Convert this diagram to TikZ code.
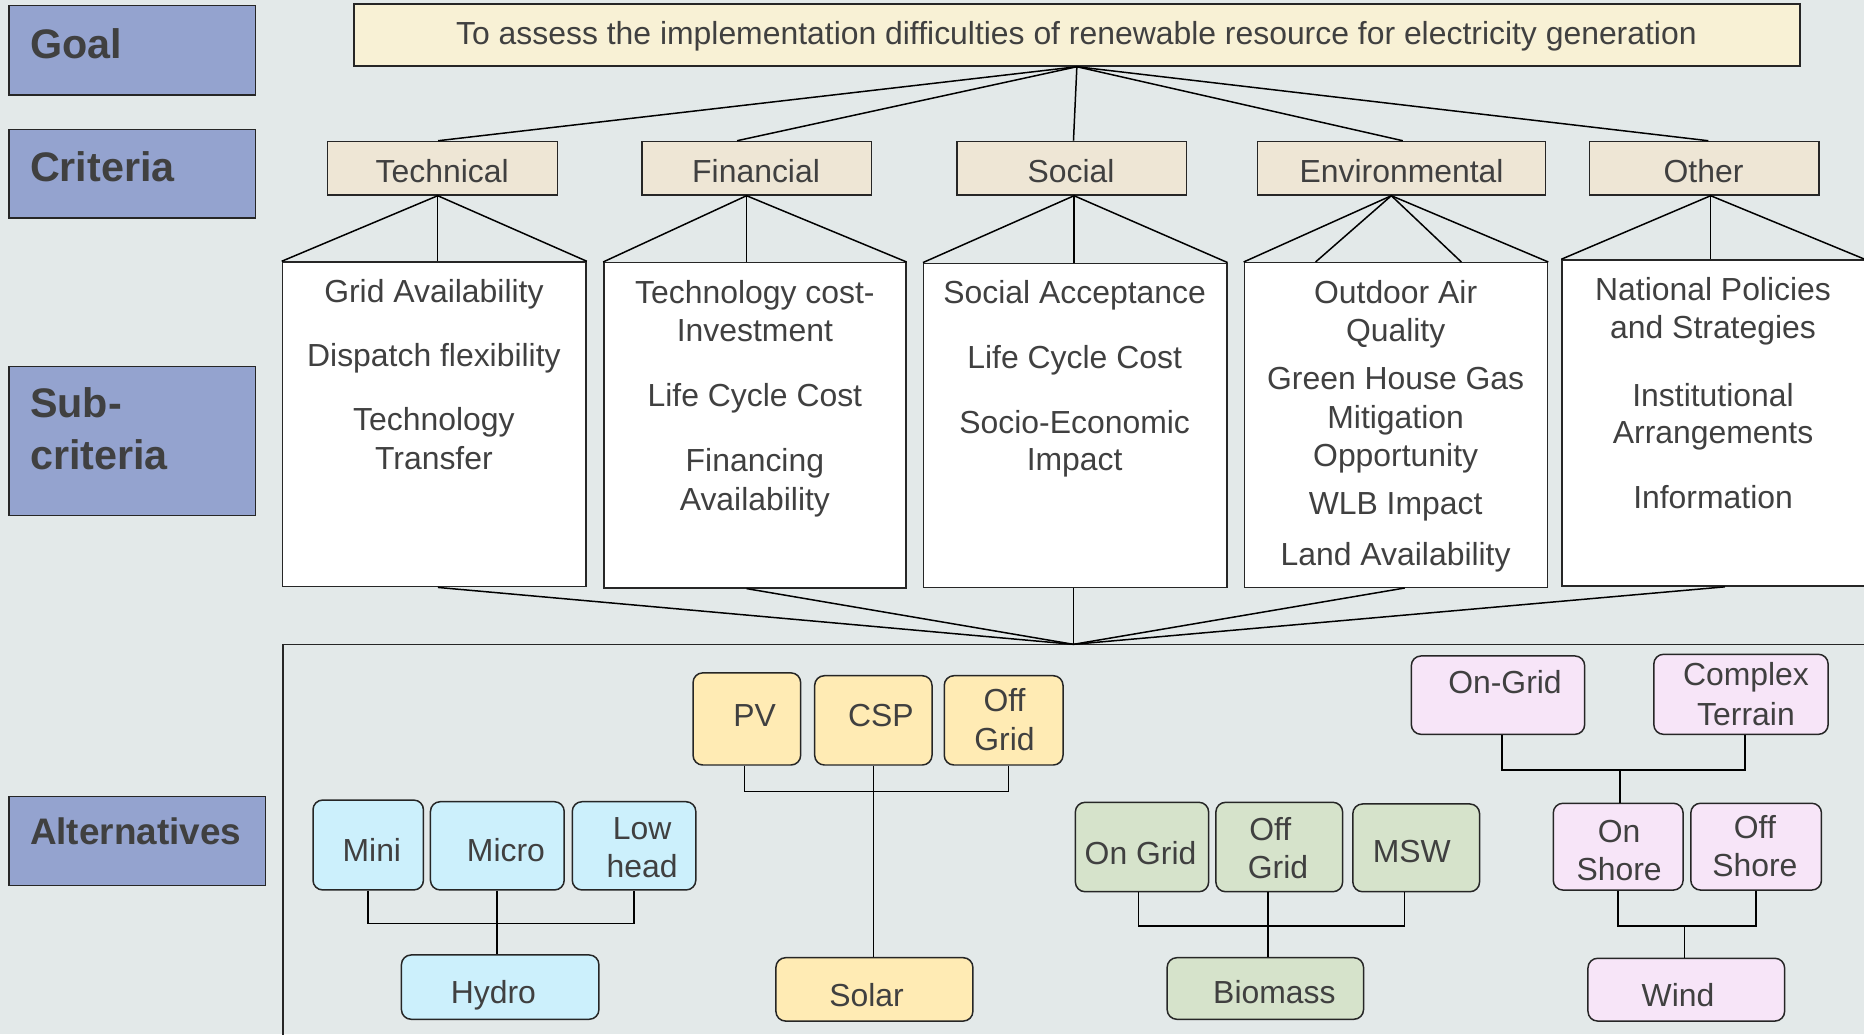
\documentclass[tikz,border=0pt]{standalone}
\usepackage{fontspec}
\setmainfont{Liberation Sans}
\usetikzlibrary{calc,fit}
\definecolor{bg}{HTML}{E3E9E9}
\definecolor{lab}{HTML}{94A3CF}
\definecolor{goalc}{HTML}{F8F1D5}
\definecolor{crit}{HTML}{EEE6D5}
\definecolor{txtc}{HTML}{404040}
\definecolor{hyd}{HTML}{CCF0FC}
\definecolor{sol}{HTML}{FFEBB4}
\definecolor{bio}{HTML}{D6E3CB}
\definecolor{win}{HTML}{F7E5F8}
\newcounter{tn}
\newcommand\tx[3]{\stepcounter{tn}\node[tt] (tx\arabic{tn}) at (#1,#2) {#3};}
\newcommand\lx[3]{\stepcounter{tn}\node[lt] (tx\arabic{tn}) at (#1,#2) {#3};}
\begin{document}
\begin{tikzpicture}[x=0.023776cm,y=-0.023776cm,
 box/.style={draw=black!85, line width=0.85pt, inner sep=0pt},
 labbox/.style={box, fill=lab},
 critbox/.style={box, fill=crit},
 subbox/.style={box, fill=white},
 alt/.style={box, rounded corners=5.5pt},
 tt/.style={anchor=base, inner sep=0pt, text=txtc, font=\fontsize{18.15}{21}\selectfont},
 lt/.style={anchor=base west, inner sep=0pt, text=txtc, font=\fontsize{23.5}{28}\selectfont\bfseries},
 con/.style={line width=0.85pt, black}]
\useasboundingbox (0,0) rectangle (1568,870);
\clip (0,0) rectangle (1568,870);
\fill[bg] (0,0) rectangle (1568,870);

% level labels
\node[labbox, fit={(7.5,4.5)(215,80)}] (lGoal) {};
\lx{25}{49}{Goal}
\node[labbox, fit={(7.5,109)(215,183.5)}] (lCrit) {};
\lx{25}{152.8}{Criteria}
\node[labbox, fit={(7.5,308.5)(215,433.5)}] (lSub) {};
\lx{25}{351.5}{Sub-}
\lx{25}{395}{criteria}
\node[labbox, fit={(7.5,670)(223.5,745)}] (lAlt) {};
\stepcounter{tn}\node[lt, font=\fontsize{21}{25}\selectfont\bfseries] (tx\arabic{tn}) at (25,710) {Alternatives};

% goal
\node[box, fill=goalc, fit={(297.7,3.5)(1514,55.5)}] (goal) {};
\tx{905.5}{37.5}{To assess the implementation difficulties of renewable resource for electricity generation}

% criteria
\node[critbox, fit={(275.4,119)(469,164)}] (cT) {};
\node[critbox, fit={(540,119)(733,164)}] (cF) {};
\node[critbox, fit={(805,119)(998,164)}] (cS) {};
\node[critbox, fit={(1058,119)(1300,164)}] (cE) {};
\node[critbox, fit={(1337,119)(1530,164)}] (cO) {};
\tx{372}{153.3}{Technical}
\tx{636}{153.3}{Financial}
\tx{901}{153.3}{Social}
\tx{1179}{153.3}{Environmental}
\tx{1433}{153.3}{Other}

\draw[con] (goal.south) -- ($(cT.north)+(-3.7,0)$);
\draw[con] (goal.south) -- ($(cF.north)+(-16.5,0)$);
\draw[con] (goal.south) -- ($(cS.north)+(1.5,0)$);
\draw[con] (goal.south) -- ($(cE.north)+(1,0)$);
\draw[con] (goal.south) -- ($(cO.north)+(3.5,0)$);

% sub-criteria boxes
\node[subbox, fit={(237.6,220.4)(493,493.5)}] (sT) {};
\node[subbox, fit={(508,221)(762,494.5)}] (sF) {};
\node[subbox, fit={(777,221.5)(1032,494)}] (sS) {};
\node[subbox, fit={(1046.8,221)(1301.8,494)}] (sE) {};
\node[subbox, fit={(1314,218.7)(1580,493)}] (sO) {};

\coordinate (aT) at ($(cT.south)+(-4,0)$);
\coordinate (aF) at ($(cF.south)+(-8.5,0)$);
\coordinate (aS) at ($(cS.south)+(2,0)$);
\coordinate (aE) at ($(cE.south)+(-8.6,0)$);
\coordinate (aO) at ($(cO.south)+(5.5,0)$);

\draw[con] (sT.north west) -- (aT) -- (sT.north east);
\draw[con] (aT) -- (aT |- sT.north);
\draw[con] (sF.north west) -- (aF) -- (sF.north east);
\draw[con] (aF) -- (aF |- sF.north);
\draw[con] (sS.north west) -- (aS) -- (sS.north east);
\draw[con] (aS) -- (aS |- sS.north);
\draw[con] (sE.north west) -- (aE) -- (sE.north east);
\draw[con] (aE) -- ($(sE.north west)!0.236!(sE.north east)$);
\draw[con] (aE) -- ($(sE.north west)!0.7145!(sE.north east)$);
\draw[con] (sO.north west) -- (aO) -- ($(sO.north west)!0.955!(sO.north east)$);
\draw[con] (aO) -- (aO |- sO.north);

% sub-criteria texts
\tx{365}{254.6}{Grid Availability}
\tx{365}{308.4}{Dispatch flexibility}
\tx{365}{362.3}{Technology}
\tx{365}{394.8}{Transfer}

\tx{635}{255.2}{Technology cost-}
\tx{635}{287.4}{Investment}
\tx{635}{342}{Life Cycle Cost}
\tx{635}{397}{Financing}
\tx{635}{429}{Availability}

\tx{904}{255.2}{Social Acceptance}
\tx{904}{309.8}{Life Cycle Cost}
\tx{904}{364.5}{Socio-Economic}
\tx{904}{395.4}{Impact}

\tx{1174}{255.2}{Outdoor Air}
\tx{1174}{287.4}{Quality}
\tx{1174}{328}{Green House Gas}
\tx{1174}{360.3}{Mitigation}
\tx{1174}{392.6}{Opportunity}
\tx{1174}{433.2}{WLB Impact}
\tx{1174}{475.3}{Land Availability}

\tx{1441}{252.4}{National Policies}
\tx{1441}{284.6}{and Strategies}
\tx{1441}{341.6}{Institutional}
\tx{1441}{372.9}{Arrangements}
\tx{1441}{427.6}{Information}

% alternatives frame
\node[box, fit={(238,542)(1600,900)}] (altbox) {};
\coordinate (conv) at (903,542);
\draw[con] ($(sT.south)+(3,0)$) -- (conv);
\draw[con] ($(sF.south)+(-7,0)$) -- (conv);
\draw[con] ($(sS.south)+(-1.5,0)$) -- (conv);
\draw[con] ($(sE.south)+(7.3,0)$) -- (conv);
\draw[con] ($(sO.south)+(4,0)$) -- (conv);

% hydro
\node[alt, fill=hyd, fit={(263.3,673)(356.2,748.6)}] (hMini) {};
\node[alt, fill=hyd, fit={(362.1,674.4)(474.6,748.6)}] (hMicro) {};
\node[alt, fill=hyd, fit={(481.4,674.4)(585.3,748.6)}] (hLow) {};
\node[alt, fill=hyd, fit={(337.7,803.3)(503.8,857.4)}] (hydro) {};
\coordinate (hj) at (417.9,777);
\draw[con] (hMini.south) |- (hj) -| (hLow.south);
\draw[con] (hj |- hMicro.south) -- (hj |- hydro.north);
\tx{312.8}{724.8}{Mini}
\tx{425.6}{724.5}{Micro}
\tx{540.2}{705.8}{Low}
\tx{540.2}{738.3}{head}
\tx{415}{844}{Hydro}

% solar
\node[alt, fill=sol, fit={(583,566)(673.5,643.5)}] (sPV) {};
\node[alt, fill=sol, fit={(685.3,568.4)(784,643.5)}] (sCSP) {};
\node[alt, fill=sol, fit={(794.3,568.4)(894.2,643.5)}] (sOff) {};
\node[alt, fill=sol, fit={(652.7,805.6)(818.4,858.9)}] (solar) {};
\coordinate (sj) at (734.7,666);
\draw[con] ($(sPV.south)+(-2,0)$) |- (sj) -| ($(sOff.south)+(4.2,0)$);
\draw[con] (sj |- sCSP.south) -- (sj |- solar.north);
\tx{634.7}{611.3}{PV}
\tx{741}{611.3}{CSP}
\tx{845}{598.6}{Off}
\tx{845}{630.9}{Grid}
\tx{729}{846.3}{Solar}

% biomass
\node[alt, fill=bio, fit={(904.6,674.9)(1016.7,750.1)}] (bOn) {};
\node[alt, fill=bio, fit={(1022.8,674.9)(1129.4,750.1)}] (bOff) {};
\node[alt, fill=bio, fit={(1138,676.3)(1244.6,750.1)}] (bMsw) {};
\node[alt, fill=bio, fit={(981.8,805.6)(1147,857.4)}] (biomass) {};
\coordinate (bj) at (1066.8,779);
\draw[con] ($(bOn.south)+(-3,0)$) |- (bj) -| ($(bMsw.south)+(-9.7,0)$);
\draw[con] (bj |- bOff.south) -- (bj |- biomass.north);
\tx{959.4}{726.8}{On Grid}
\tx{1068.6}{706.6}{Off}
\tx{1075}{738.8}{Grid}
\tx{1187.6}{725.7}{MSW}
\tx{1072}{844}{Biomass}

% wind
\node[alt, fill=win, fit={(1187.2,551.8)(1333,617.7)}] (wOn) {};
\node[alt, fill=win, fit={(1391.2,550.4)(1537.8,617.7)}] (wCx) {};
\node[alt, fill=win, fit={(1306.6,675.7)(1415.8,748.7)}] (wOnS) {};
\node[alt, fill=win, fit={(1422.3,675.7)(1532.2,748.7)}] (wOffS) {};
\node[alt, fill=win, fit={(1335.8,806.1)(1501.2,858.9)}] (wind) {};
\coordinate (wj1) at (1362.7,647.7);
\coordinate (wj2) at (1417,779);
\draw[con] ($(wOn.south)+(3.5,0)$) |- (wj1) -| ($(wCx.south)+(3.5,0)$);
\draw[con] (wj1) -- (wj1 |- wOnS.north);
\draw[con] (wOnS.south) |- (wj2) -| (wOffS.south);
\draw[con] (wj2) -- (wj2 |- wind.north);
\tx{1266}{583.2}{On-Grid}
\tx{1468.7}{577}{Complex}
\tx{1468.7}{609.9}{Terrain}
\tx{1362}{708.6}{On}
\tx{1362}{740.3}{Shore}
\tx{1476.2}{705.2}{Off}
\tx{1476.2}{737.4}{Shore}
\tx{1411.5}{846.3}{Wind}
\end{tikzpicture}
\end{document}
